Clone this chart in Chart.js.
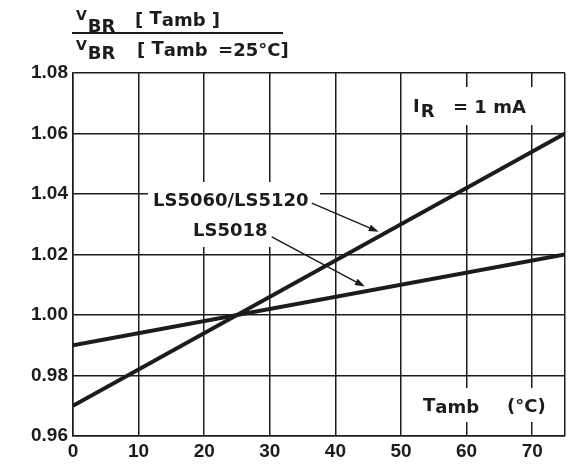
<!DOCTYPE html>
<html>
<head>
<meta charset="utf-8">
<script src="https://cdn.jsdelivr.net/npm/chart.js@4.4.1/dist/chart.umd.min.js"></script>
<style>
  body { margin: 0; background: #fff; }
  #wrap { width: 569px; height: 468px; position: relative; }
</style>
</head>
<body>
<div id="wrap"><canvas id="chart_vbr"></canvas></div>
<script>
// Tamb (°C) at the ends of each straight line
const tamb = [0, 75];
const ls5060 = [0.97, 1.06];
const ls5018 = [0.99, 1.02];
const xTickLabels = ['0', '10', '20', '30', '40', '50', '60', '70'];
const yTickLabels = ['0.96', '0.98', '1.00', '1.02', '1.04', '1.06', '1.08'];
// arrows: [from x, from y, to x, to y] in data units
const arrow5060 = [36.4, 1.037, 46.6, 1.0275];
const arrow5018 = [30.3, 1.0258, 44.5, 1.0094];

const ink = '#1c1c1c';
const FONT = '"Liberation Sans", Arial, sans-serif';
const LABEL_FONT = '"DejaVu Sans", sans-serif';

function txt(ctx, s, x, y, size) {
  ctx.font = 'bold ' + size + 'px ' + LABEL_FONT;
  ctx.fillText(s, x, y);
  return x + ctx.measureText(s).width;
}

function arrow(ctx, chart, a) {
  const xs = chart.scales.x, ys = chart.scales.y;
  const x1 = xs.getPixelForValue(a[0]), y1 = ys.getPixelForValue(a[1]);
  const x2 = xs.getPixelForValue(a[2]), y2 = ys.getPixelForValue(a[3]);
  const ang = Math.atan2(y2 - y1, x2 - x1);
  ctx.strokeStyle = ink;
  ctx.lineWidth = 1.5;
  ctx.beginPath();
  ctx.moveTo(x1, y1);
  ctx.lineTo(x2 - 8 * Math.cos(ang), y2 - 8 * Math.sin(ang));
  ctx.stroke();
  ctx.fillStyle = ink;
  ctx.beginPath();
  ctx.moveTo(x2, y2);
  ctx.lineTo(x2 - 10 * Math.cos(ang) + 3.5 * Math.sin(ang), y2 - 10 * Math.sin(ang) - 3.5 * Math.cos(ang));
  ctx.lineTo(x2 - 10 * Math.cos(ang) - 3.5 * Math.sin(ang), y2 - 10 * Math.sin(ang) + 3.5 * Math.cos(ang));
  ctx.closePath();
  ctx.fill();
}

const overlay = {
  id: 'overlay',
  beforeDatasetsDraw(chart) {
    const ctx = chart.ctx;
    ctx.save();
    // white patches that break the grid under the labels
    ctx.fillStyle = '#fff';
    ctx.fillRect(148, 182, 172, 32);
    ctx.fillRect(188, 214, 84, 33);
    ctx.fillRect(408, 87, 125, 38);
    ctx.fillRect(418, 388, 130, 34);
    ctx.fillStyle = ink;
    ctx.textBaseline = 'alphabetic';
    txt(ctx, 'LS5060/LS5120', 153, 206, 18);
    txt(ctx, 'LS5018', 193, 236, 18);
    // I_R = 1 mA
    let x = txt(ctx, 'I', 413, 112, 18);
    txt(ctx, 'R', x + 1, 117, 18);
    txt(ctx, '= 1 mA', 453, 113, 18);
    // Tamb (°C)
    x = txt(ctx, 'T', 423, 411, 18);
    txt(ctx, 'amb', x, 413, 18);
    txt(ctx, '(\u00B0C)', 507, 412, 18);
    arrow(ctx, chart, arrow5060);
    arrow(ctx, chart, arrow5018);
    ctx.restore();
  },
  afterDraw(chart) {
    const ctx = chart.ctx;
    ctx.save();
    ctx.fillStyle = ink;
    ctx.textBaseline = 'alphabetic';
    // numerator
    let x = txt(ctx, 'V', 76, 20, 14);
    txt(ctx, 'BR', x + 1, 32, 18);
    x = txt(ctx, '[ ', 135, 26, 18);
    x = txt(ctx, 'T', x, 24, 18);
    x = txt(ctx, 'amb', x, 26, 18);
    txt(ctx, ' ]', x, 26, 18);
    // fraction bar
    ctx.fillRect(72, 32, 211, 2);
    // denominator
    x = txt(ctx, 'V', 76, 50, 14);
    txt(ctx, 'BR', x + 1, 59, 18);
    x = txt(ctx, '[ ', 137, 56, 18);
    x = txt(ctx, 'T', x, 54, 18);
    x = txt(ctx, 'amb', x, 56, 18);
    txt(ctx, '  =25\u00B0C]', x - 2, 56, 18);
    ctx.restore();
  }
};

const ctxEl = document.getElementById('chart_vbr');
const myChart = new Chart(ctxEl, {
  type: 'scatter',
  data: {
    datasets: [
      {
        label: 'LS5060/LS5120',
        data: tamb.map((t, i) => ({ x: t, y: ls5060[i] })),
        showLine: true,
        borderColor: ink,
        borderWidth: 4,
        pointRadius: 0
      },
      {
        label: 'LS5018',
        data: tamb.map((t, i) => ({ x: t, y: ls5018[i] })),
        showLine: true,
        borderColor: ink,
        borderWidth: 4,
        pointRadius: 0
      }
    ]
  },
  plugins: [overlay],
  options: {
    responsive: true,
    maintainAspectRatio: false,
    animation: false,
    layout: {
      padding: { top: 73, right: 1 }
    },
    plugins: {
      legend: { display: false },
      tooltip: { enabled: false }
    },
    scales: {
      x: {
        type: 'linear',
        min: 0,
        max: 75,
        afterFit(s) { s.height = 32; },
        border: { display: true, color: ink, width: 1.5 },
        grid: { color: ink, lineWidth: 1.5, drawTicks: false },
        ticks: {
          stepSize: 10,
          padding: 4,
          color: ink,
          font: { family: FONT, size: 19, weight: 'bold' },
          callback: (v) => xTickLabels.includes(String(v)) ? String(v) : ''
        }
      },
      y: {
        min: 0.96,
        max: 1.08,
        afterFit(s) { s.width = 73; },
        border: { display: true, color: ink, width: 1.5 },
        grid: { color: ink, lineWidth: 1.5, drawTicks: false },
        ticks: {
          stepSize: 0.02,
          padding: 5,
          color: ink,
          font: { family: FONT, size: 19, weight: 'bold' },
          callback: (v) => yTickLabels[Math.round((v - 0.96) / 0.02)]
        }
      }
    }
  }
});
</script>
</body>
</html>
